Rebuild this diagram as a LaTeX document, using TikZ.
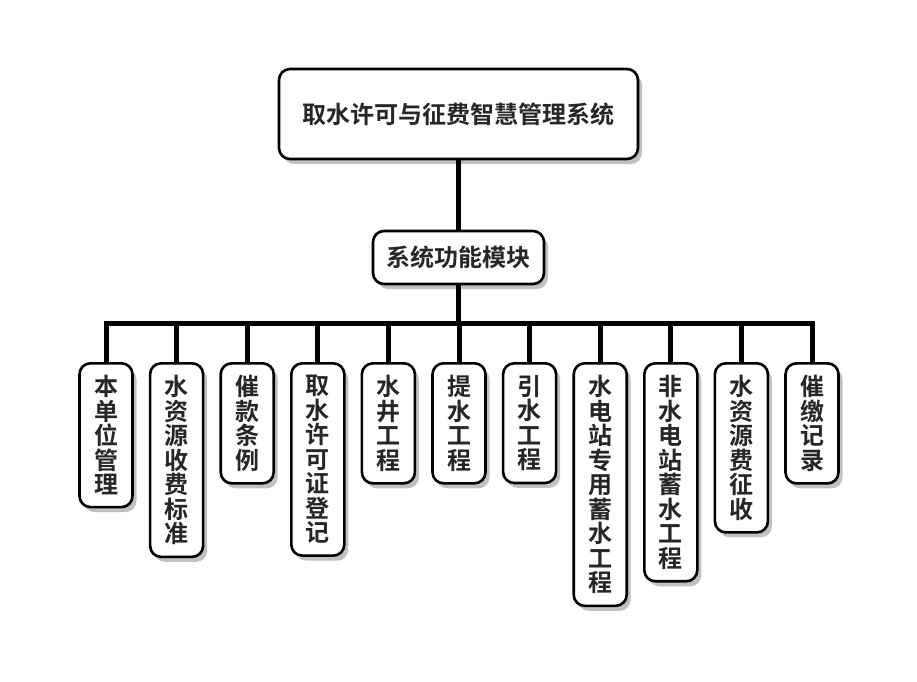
\documentclass[tikz,border=0pt]{standalone}
\usepackage{fontspec}
\setmainfont{Noto Sans CJK SC}[BoldFont={Noto Sans CJK SC Bold}]
\usetikzlibrary{shadows}

\tikzset{
  box/.style={draw=black, line width=2.6pt, rounded corners=11pt, fill=white, text=black!85,
    font=\bfseries\fontsize{24pt}{24.5pt}\selectfont,
    drop shadow={shadow xshift=4pt, shadow yshift=-5pt, opacity=0.35, fill=black!70}},
  leaf/.style={box, anchor=north, align=center, minimum width=53pt, inner xsep=2pt, inner ysep=12pt},
  wire/.style={line width=5pt}
}

\begin{document}
\begin{tikzpicture}[x=1pt, y=-1pt]
\useasboundingbox (0,0) rectangle (917,681);
\node[box, minimum width=359pt, minimum height=90pt] (sys) at (458.5,114) {取水许可与征费智慧管理系统};
\node[box, minimum width=171pt, minimum height=53pt] (mod) at (458.5,257.5) {系统功能模块};
\coordinate (bus) at (458.5,323);
\node[leaf] (unit) at (106,362) {本\\单\\位\\管\\理};
\node[leaf] (std) at (176.6,362) {水\\资\\源\\收\\费\\标\\准};
\node[leaf] (dun) at (247.2,362) {催\\款\\条\\例};
\node[leaf] (permit) at (317.8,362) {取\\水\\许\\可\\证\\登\\记};
\node[leaf] (well) at (388.4,362) {水\\井\\工\\程};
\node[leaf] (lift) at (459,362) {提\\水\\工\\程};
\node[leaf] (divert) at (529.6,362) {引\\水\\工\\程};
\node[leaf] (hydro) at (600.2,362) {水\\电\\站\\专\\用\\蓄\\水\\工\\程};
\node[leaf] (store) at (670.8,362) {非\\水\\电\\站\\蓄\\水\\工\\程};
\node[leaf] (levy) at (741.4,362) {水\\资\\源\\费\\征\\收};
\node[leaf] (record) at (812,362) {催\\缴\\记\\录};

\draw[wire] (sys) -- (mod);
\draw[wire] (mod) -- (bus);
\draw[wire] (unit.north) |- (bus) -| (record.north);
\draw[wire] (std.north) -- (std.north |- bus);
\draw[wire] (dun.north) -- (dun.north |- bus);
\draw[wire] (permit.north) -- (permit.north |- bus);
\draw[wire] (well.north) -- (well.north |- bus);
\draw[wire] (lift.north) -- (lift.north |- bus);
\draw[wire] (divert.north) -- (divert.north |- bus);
\draw[wire] (hydro.north) -- (hydro.north |- bus);
\draw[wire] (store.north) -- (store.north |- bus);
\draw[wire] (levy.north) -- (levy.north |- bus);
\end{tikzpicture}
\end{document}
